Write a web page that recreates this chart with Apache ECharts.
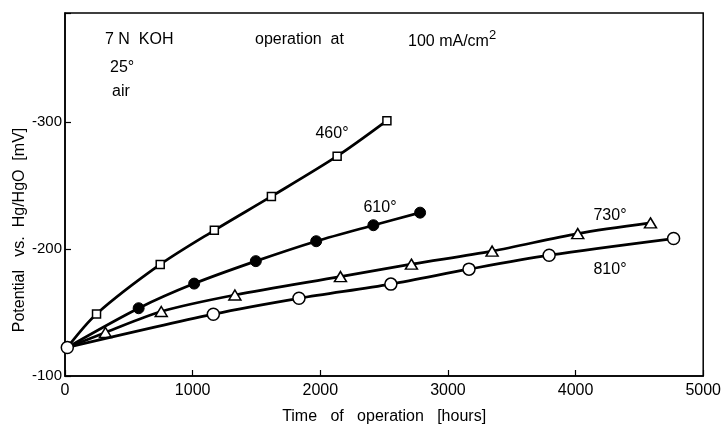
<!DOCTYPE html>
<html>
<head>
<meta charset="utf-8">
<script src="https://cdn.jsdelivr.net/npm/echarts@6/dist/echarts.min.js"></script>
<style>html,body{margin:0;padding:0;background:#fff;}#c{width:724px;height:430px;}</style>
</head>
<body>
<div id="c"></div>
<script>
// hours, potential magnitude (mV, shown negative)
const origin = [18, 122.5];
const s460 = [[247, 148.9], [746, 187.9], [1170, 214.8], [1617, 241.5], [2132, 273.2], [2522, 301.2]];
const s610 = [[577, 153.4], [1012, 172.8], [1495, 190.5], [1968, 206.2], [2416, 218.8], [2782, 228.7]];
const s730 = [[317, 134.3], [754, 150.8], [1331, 163.8], [2158, 178.3], [2714, 188.1], [3346, 198.4], [4017, 212.2], [4587, 220.6]];
const s810 = [[1162, 148.7], [1833, 161.2], [2553, 172.4], [3165, 184.2], [3793, 195.2], [4768, 208.3]];
const seriesNames = ['460°', '610°', '730°', '810°'];
const xTicks = [0, 1000, 2000, 3000, 4000, 5000];
const yTicks = [100, 200, 300];

const FONT = 'Liberation Sans';
function withOrigin(arr, showOrigin) {
  const o = showOrigin ? {value: origin} : {value: origin, symbol: 'none'};
  return [o].concat(arr.map(p => ({value: p})));
}
const chart = echarts.init(document.getElementById('c'), null, {renderer: 'canvas'});
const lineStyle = {color: '#000', width: 2.7};
const itemOpen = {color: '#fff', borderColor: '#000', borderWidth: 1.5};
function txt(t, x, y, size, align, rot) {
  return {type: 'text', x: x, y: y, rotation: rot || 0, style: {text: t, fontSize: size || 16, fontFamily: FONT, fill: '#000',
    align: align || 'left', verticalAlign: 'middle'}};
}
chart.setOption({
  animation: false,
  backgroundColor: '#fff',
  grid: {left: 65, right: 17, top: 13, bottom: 52, show: true, borderColor: '#000', borderWidth: 1.5, backgroundColor: 'transparent'},
  xAxis: {
    type: 'value', min: 0, max: 5000, interval: 1000,
    axisLine: {lineStyle: {color: '#000', width: 1.5}},
    axisTick: {inside: true, length: 6, lineStyle: {color: '#000', width: 1.2}},
    splitLine: {show: false},
    axisLabel: {color: '#000', fontFamily: FONT, fontSize: 16, margin: 7,
      formatter: v => xTicks.indexOf(v) >= 0 ? String(v) : ''},
    name: 'Time   of   operation   [hours]', nameLocation: 'middle', nameGap: 33,
    nameTextStyle: {color: '#000', fontFamily: FONT, fontSize: 16}
  },
  yAxis: {
    type: 'value', min: 100, max: 386, interval: 100,
    axisLine: {show: true, lineStyle: {color: '#000', width: 1.5}},
    axisTick: {inside: true, length: 6, lineStyle: {color: '#000', width: 1.2}},
    splitLine: {show: false},
    axisLabel: {color: '#000', fontFamily: FONT, fontSize: 15, margin: 3,
      formatter: v => yTicks.indexOf(v) >= 0 ? '-' + v : ''}
  },
  series: [
    {name: seriesNames[0], type: 'line', smooth: 0.3, data: withOrigin(s460, false), symbol: 'rect', symbolSize: 8,
      lineStyle: lineStyle, itemStyle: itemOpen, z: 3},
    {name: seriesNames[1], type: 'line', smooth: 0.3, data: withOrigin(s610, false), symbol: 'circle', symbolSize: 11,
      lineStyle: lineStyle, itemStyle: {color: '#000', borderColor: '#000'}, z: 3},
    {name: seriesNames[2], type: 'line', smooth: 0.3, data: withOrigin(s730, false), symbol: 'triangle', symbolSize: [12, 10],
      lineStyle: lineStyle, itemStyle: itemOpen, z: 3},
    {name: seriesNames[3], type: 'line', smooth: 0.3, data: withOrigin(s810, true), symbol: 'circle', symbolSize: 12,
      lineStyle: lineStyle, itemStyle: itemOpen, z: 4}
  ],
  graphic: [
    txt('Potential   vs.  Hg/HgO  [mV]', 20, 230, 16, 'center', Math.PI / 2),
    txt('7 N  KOH', 105, 40),
    txt('25°', 110, 68),
    txt('air', 112, 92),
    txt('operation  at', 255, 40),
    txt('100 mA/cm', 408, 42),
    txt('2', 489, 35, 13),
    txt(seriesNames[0], 332, 134, 16, 'center'),
    txt(seriesNames[1], 380, 208, 16, 'center'),
    txt(seriesNames[2], 610, 216, 16, 'center'),
    txt(seriesNames[3], 610, 270, 16, 'center')
  ]
});
</script>
</body>
</html>
